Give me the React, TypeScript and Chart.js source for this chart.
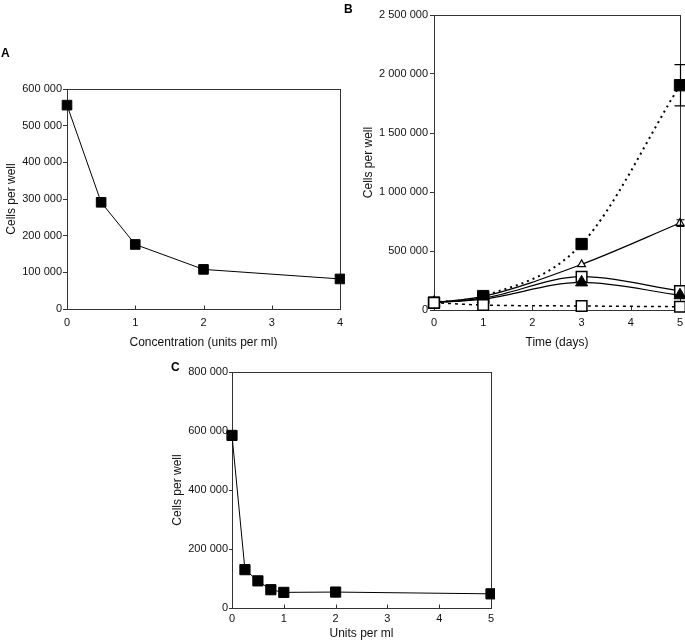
import React, { useEffect, useRef } from "react";
import { Chart, registerables } from "chart.js";

Chart.register(...registerables);

const FONT = "'Liberation Sans', Arial, Helvetica, sans-serif";
const INK = "#111";
const FRAME = "#333";

// ---------- Panel A ----------
const concA = [0, 0.5, 1, 2, 4];
const cellsA = [556000, 291000, 176000, 108000, 82000];
const xTicksA = [0, 1, 2, 3, 4];
const yTicksA = [0, 100000, 200000, 300000, 400000, 500000, 600000];

// ---------- Panel B ----------
const daysB = [0, 1, 3, 5];
const filledSqB = [62000, 118000, 559000, 1905000];
const filledSqErrB = [0, 0, 0, 175000];
const openTriB = [62000, 115000, 387000, 737000];
const openTriErrB = [0, 0, 0, 28000];
const openSqSolidB = [62000, 100000, 282000, 161000];
const filledTriB = [62000, 92000, 234000, 125000];
const openSqDottedB = [62000, 42000, 34000, 28000];
const xTicksB = [0, 1, 2, 3, 4, 5];
const yTicksB = [0, 500000, 1000000, 1500000, 2000000, 2500000];

// ---------- Panel C ----------
const unitsC = [0, 0.25, 0.5, 0.75, 1, 2, 5];
const cellsC = [585000, 130000, 92000, 62000, 53000, 54000, 48000];
const xTicksC = [0, 1, 2, 3, 4, 5];
const yTicksC = [0, 200000, 400000, 600000, 800000];

const fmt = (v: number) => String(v).replace(/\B(?=(\d{3})+(?!\d))/g, " ");
const pts = (xs: number[], ys: number[]) => xs.map((x, i) => ({ x, y: ys[i] }));

const framePlugin = {
  id: "frameAndTicks",
  beforeDatasetsDraw(chart: any) {
    const { ctx, chartArea: a } = chart;
    ctx.save();
    ctx.strokeStyle = FRAME;
    ctx.lineWidth = 1;
    const l = Math.round(a.left) + 0.5;
    const t = Math.round(a.top) + 0.5;
    const r = Math.round(a.right) + 0.5;
    const b = Math.round(a.bottom) + 0.5;
    ctx.strokeRect(l, t, r - l, b - t);
    const xs = chart.scales.x;
    xs.ticks.forEach((tk: any) => {
      const px = Math.round(xs.getPixelForValue(tk.value)) + 0.5;
      ctx.beginPath();
      ctx.moveTo(px, b);
      ctx.lineTo(px, b - 4);
      ctx.stroke();
    });
    ctx.restore();
  },
};

const errorBarPlugin = {
  id: "errorBars",
  afterDatasetsDraw(chart: any) {
    const { ctx } = chart;
    const xs = chart.scales.x;
    const ys = chart.scales.y;
    ctx.save();
    ctx.strokeStyle = "#000";
    ctx.lineWidth = 1.2;
    chart.data.datasets.forEach((ds: any) => {
      if (!ds.errorBars) return;
      ds.data.forEach((p: any, i: number) => {
        const e = ds.errorBars[i];
        if (!e) return;
        const px = Math.round(xs.getPixelForValue(p.x)) + 0.5;
        const top = ys.getPixelForValue(p.y + e);
        const bot = ys.getPixelForValue(p.y - e);
        const cap = ds.capHalf || 5;
        ctx.beginPath();
        ctx.moveTo(px, top);
        ctx.lineTo(px, bot);
        ctx.moveTo(px - cap, top);
        ctx.lineTo(px + cap, top);
        ctx.moveTo(px - cap, bot);
        ctx.lineTo(px + cap, bot);
        ctx.stroke();
      });
    });
    ctx.restore();
  },
};

function axes(opts: {
  xTicks: number[];
  yTicks: number[];
  xMax: number;
  yMax: number;
  yWidth: number;
  xHeight: number;
  xTitle: string;
  xTitleBottom: number;
  yTitleLeft: number;
  xPad: number;
  yPad: number;
  tickLen: number;
}) {
  return {
    x: {
      type: "linear",
      min: 0,
      max: opts.xMax,
      afterBuildTicks: (s: any) => {
        s.ticks = opts.xTicks.map((v) => ({ value: v }));
      },
      afterFit: (s: any) => {
        s.height = opts.xHeight;
        s.paddingLeft = 0;
        s.paddingRight = 0;
      },
      grid: { display: false, drawTicks: false, tickLength: 0 },
      border: { display: false },
      ticks: {
        padding: opts.xPad,
        color: INK,
        font: { family: FONT, size: 11 },
        maxRotation: 0,
        autoSkip: false,
        callback: (v: any) => String(v),
      },
      title: {
        display: true,
        text: opts.xTitle,
        color: INK,
        font: { family: FONT, size: 12 },
        padding: { top: 0, bottom: opts.xTitleBottom },
      },
    },
    y: {
      type: "linear",
      min: 0,
      max: opts.yMax,
      afterBuildTicks: (s: any) => {
        s.ticks = opts.yTicks.map((v) => ({ value: v }));
      },
      afterFit: (s: any) => {
        s.width = opts.yWidth;
        s.paddingTop = 0;
        s.paddingBottom = 0;
      },
      grid: {
        display: true,
        drawOnChartArea: false,
        drawTicks: true,
        tickLength: opts.tickLen,
        color: FRAME,
        lineWidth: 1,
      },
      border: { display: false },
      ticks: {
        padding: opts.yPad,
        color: INK,
        font: { family: FONT, size: 11 },
        autoSkip: false,
        callback: (v: any) => fmt(Number(v)),
      },
      title: {
        display: true,
        text: "Cells per well",
        color: INK,
        font: { family: FONT, size: 12 },
        padding: { top: opts.yTitleLeft, bottom: 0 },
      },
    },
  };
}

function baseOptions(padding: any, scales: any) {
  return {
    responsive: false,
    maintainAspectRatio: false,
    animation: false,
    events: [],
    layout: { padding, autoPadding: false },
    plugins: { legend: { display: false }, tooltip: { enabled: false }, title: { display: false } },
    scales,
  };
}

function configA(): any {
  return {
    type: "line",
    data: {
      datasets: [
        {
          data: pts(concA, cellsA),
          borderColor: "#000",
          borderWidth: 1,
          pointStyle: "rect",
          pointRadius: 6.8,
          pointBackgroundColor: "#000",
          pointBorderColor: "#000",
          pointBorderWidth: 1,
          tension: 0,
          clip: false,
        },
      ],
    },
    options: baseOptions(
      { left: 0, top: 89, right: 5, bottom: 0 },
      axes({
        xTicks: xTicksA,
        yTicks: yTicksA,
        xMax: 4,
        yMax: 600000,
        yWidth: 67,
        xHeight: 51,
        xTitle: "Concentration (units per ml)",
        xTitleBottom: 10,
        yTitleLeft: 4,
        xPad: 7,
        yPad: 1,
        tickLen: 4,
      })
    ),
    plugins: [framePlugin],
  };
}

function configB(): any {
  const common = { clip: false, cubicInterpolationMode: "monotone", borderColor: "#000" };
  return {
    type: "line",
    data: {
      datasets: [
        {
          ...common,
          data: pts(daysB, openSqDottedB),
          borderWidth: 1.5,
          borderDash: [3, 4],
          pointStyle: "rect",
          pointRadius: 7.5,
          pointBackgroundColor: "#fff",
          pointBorderColor: "#000",
          pointBorderWidth: 1.5,
        },
        {
          ...common,
          data: pts(daysB, filledSqB),
          errorBars: filledSqErrB,
          capHalf: 6,
          borderWidth: 2,
          borderDash: [2, 4],
          pointStyle: "rect",
          pointRadius: 8,
          pointBackgroundColor: "#000",
          pointBorderColor: "#000",
          pointBorderWidth: 1,
        },
        {
          ...common,
          data: pts(daysB, filledTriB),
          borderWidth: 1.2,
          pointStyle: "triangle",
          pointRadius: 7,
          pointBackgroundColor: "#000",
          pointBorderColor: "#000",
          pointBorderWidth: 1,
        },
        {
          ...common,
          data: pts(daysB, openSqSolidB),
          borderWidth: 1.2,
          pointStyle: "rect",
          pointRadius: 7.5,
          pointBackgroundColor: "#fff",
          pointBorderColor: "#000",
          pointBorderWidth: 1.5,
        },
        {
          ...common,
          data: pts(daysB, openTriB),
          errorBars: openTriErrB,
          capHalf: 4,
          borderWidth: 1.2,
          pointStyle: "triangle",
          pointRadius: 4.5,
          pointBackgroundColor: "#fff",
          pointBorderColor: "#000",
          pointBorderWidth: 1.2,
        },
      ],
    },
    options: baseOptions(
      { left: 0, top: 15, right: 5, bottom: 0 },
      axes({
        xTicks: xTicksB,
        yTicks: yTicksB,
        xMax: 5,
        yMax: 2500000,
        yWidth: 89,
        xHeight: 50,
        xTitle: "Time (days)",
        xTitleBottom: 10,
        yTitleLeft: 16.5,
        xPad: 6,
        yPad: 2,
        tickLen: 4,
      })
    ),
    plugins: [framePlugin, errorBarPlugin],
  };
}

function configC(): any {
  return {
    type: "line",
    data: {
      datasets: [
        {
          data: pts(unitsC, cellsC),
          borderColor: "#000",
          borderWidth: 1,
          pointStyle: "rect",
          pointRadius: 7.2,
          pointBackgroundColor: "#000",
          pointBorderColor: "#000",
          pointBorderWidth: 1,
          tension: 0,
          clip: false,
        },
      ],
    },
    options: baseOptions(
      { left: 0, top: 17, right: 4, bottom: 0 },
      axes({
        xTicks: xTicksC,
        yTicks: yTicksC,
        xMax: 5,
        yMax: 800000,
        yWidth: 92,
        xHeight: 34,
        xTitle: "Units per ml",
        xTitleBottom: 1.5,
        yTitleLeft: 30.8,
        xPad: 4,
        yPad: 1,
        tickLen: 3,
      })
    ),
    plugins: [framePlugin],
  };
}

function ChartCanvas(props: { make: () => any; left: number; top: number; width: number; height: number }) {
  const ref = useRef<HTMLCanvasElement | null>(null);
  useEffect(() => {
    if (!ref.current) return;
    const chart = new Chart(ref.current, props.make());
    return () => chart.destroy();
  }, []);
  return (
    <canvas
      ref={ref}
      width={props.width}
      height={props.height}
      style={{ position: "absolute", left: props.left, top: props.top, width: props.width, height: props.height }}
    />
  );
}

const letterStyle = (left: number, top: number): React.CSSProperties => ({
  position: "absolute",
  left,
  top,
  fontFamily: FONT,
  fontWeight: "bold",
  fontSize: 12,
  lineHeight: "12px",
  color: "#000",
});

export default function App() {
  return (
    <div style={{ position: "absolute", left: 0, top: 0, width: 685, height: 642, background: "#fff", overflow: "hidden" }}>
      <ChartCanvas make={configA} left={0} top={0} width={345} height={360} />
      <ChartCanvas make={configB} left={345} top={0} width={340} height={360} />
      <ChartCanvas make={configC} left={140} top={355} width={355} height={287} />
      <div style={letterStyle(1, 47)}>A</div>
      <div style={letterStyle(344, 3)}>B</div>
      <div style={letterStyle(171, 361)}>C</div>
    </div>
  );
}
